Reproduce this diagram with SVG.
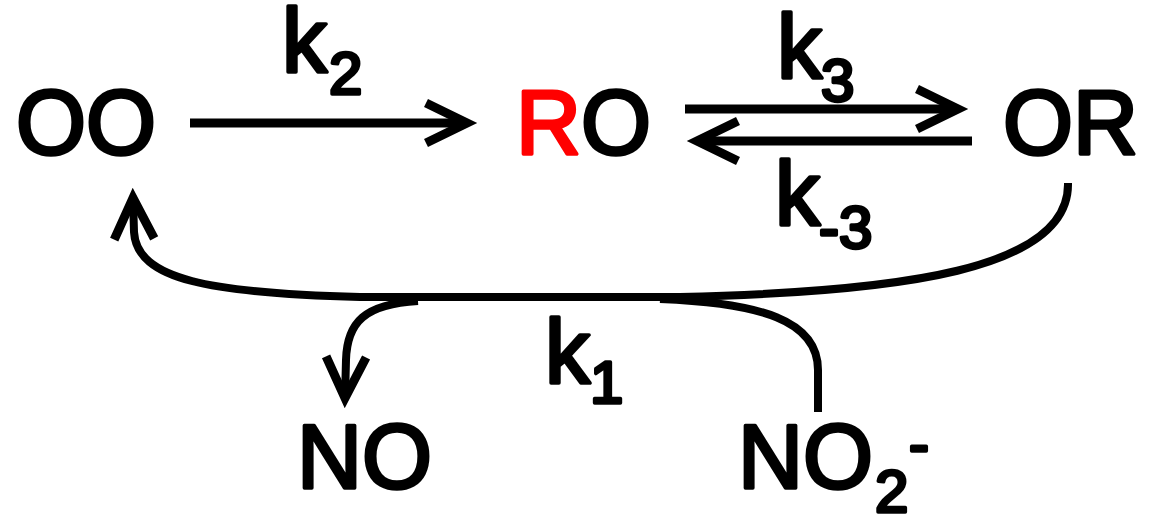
<svg xmlns="http://www.w3.org/2000/svg" width="1151" height="522" viewBox="0 0 1151 522">
<style>
text{font-family:"Liberation Sans",Arial,sans-serif;fill:#000;stroke:#000;stroke-width:3.5;stroke-linejoin:round}
.big{font-size:90px}
.sub{font-size:60px}
.red{fill:#f00;stroke:#f00}
.ln{fill:none;stroke:#000;stroke-width:9}
.cv{fill:none;stroke:#000;stroke-width:8}
</style>
<defs>
<marker id="ah" markerUnits="userSpaceOnUse" markerWidth="70" markerHeight="70" viewBox="-55 -35 70 70" refX="0" refY="0" orient="auto" overflow="visible">
<path d="M-41,-20 L0,0 L-41,20" fill="none" stroke="#000" stroke-width="9" stroke-miterlimit="10"/>
</marker>
</defs>
<rect width="1151" height="522" fill="#fff"/>
<g id="OO"><text class="big" x="16" y="154">OO</text></g>
<g id="RO"><text class="big" x="516" y="154"><tspan class="red">R</tspan>O</text></g>
<g id="OR"><text class="big" x="1003" y="154">OR</text></g>
<g id="NO"><text class="big" x="297" y="488">NO</text></g>
<g id="NO2"><text class="big" x="738" y="488">NO<tspan class="sub" x="875" y="512">2</tspan><tspan class="sub" x="909" y="464">-</tspan></text></g>
<g id="labels">
<text class="big" x="282" y="72">k<tspan class="sub" x="329" y="94">2</tspan></text>
<text class="big" x="777" y="78">k<tspan class="sub" x="821" y="101">3</tspan></text>
<text class="big" x="775" y="225">k<tspan class="sub" x="819" y="248">-3</tspan></text>
<text class="big" x="545" y="383">k<tspan class="sub" x="590" y="403">1</tspan></text>
</g>
<g id="connectors">
<path class="ln" d="M190,123 H467" marker-end="url(#ah)"/>
<path class="ln" d="M685,109 H958" marker-end="url(#ah)"/>
<path class="ln" d="M972,141 H697" marker-end="url(#ah)"/>
<path class="cv" d="M1068,183 C1070,270 900,292 680,297 L360,297 C210,293 137,280 134,232 L133,198" marker-end="url(#ah)"/>
<path class="cv" d="M418,301 C365,304 347,322 346,360 L345,398" marker-end="url(#ah)"/>
<path class="cv" d="M818,412 L818,370 C818,320 760,303 660,299"/>
</g>
</svg>
